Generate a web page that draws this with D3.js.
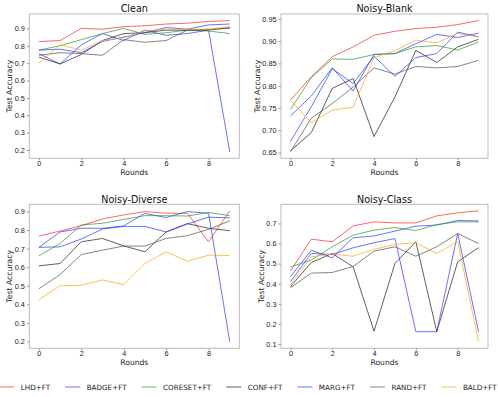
<!DOCTYPE html>
<html>
<head>
<meta charset="utf-8">
<script src="https://cdn.jsdelivr.net/npm/d3@7"></script>
<style>
  body { margin: 0; background: #fff; }
  svg { display: block; font-family: "DejaVu Sans", sans-serif; }
  .domain { display: none; }
  .tick line { stroke: #999; }
  .tick text { fill: #222; font-size: 7.3px; }
</style>
</head>
<body>
<svg id="chart" width="498" height="397"></svg>
<script>
// methods, in legend order
var methods = ['LHD+FT', 'BADGE+FT', 'CORESET+FT', 'CONF+FT', 'MARG+FT', 'RAND+FT', 'BALD+FT'];
var colors = ['#ff2a2a', '#2a3dff', '#2e9a2e', '#222222', '#2a3dff', '#555555', '#ffa51f'];
var rounds = [0, 1, 2, 3, 4, 5, 6, 7, 8, 9];
var xTicks = [0, 2, 4, 6, 8];

// test accuracy per round, one array per method (same order as methods)
var clean = [
  [0.824, 0.830, 0.900, 0.895, 0.910, 0.915, 0.925, 0.930, 0.940, 0.945],
  [0.755, 0.695, 0.805, 0.870, 0.830, 0.890, 0.860, 0.870, 0.890, 0.190],
  [0.775, 0.800, 0.835, 0.870, 0.900, 0.865, 0.875, 0.890, 0.885, 0.870],
  [0.735, 0.695, 0.750, 0.830, 0.870, 0.875, 0.890, 0.890, 0.890, 0.905],
  [0.775, 0.780, 0.760, 0.825, 0.850, 0.875, 0.905, 0.895, 0.920, 0.925],
  [0.745, 0.760, 0.755, 0.745, 0.835, 0.820, 0.830, 0.890, 0.895, 0.900],
  [0.700, 0.805, 0.775, 0.830, 0.845, 0.885, 0.895, 0.895, 0.895, 0.910]
];
var noisyBlank = [
  [0.768, 0.820, 0.865, 0.887, 0.913, 0.922, 0.928, 0.931, 0.937, 0.946],
  [0.732, 0.777, 0.840, 0.788, 0.870, 0.872, 0.894, 0.915, 0.908, 0.918],
  [0.747, 0.818, 0.860, 0.859, 0.870, 0.872, 0.887, 0.890, 0.880, 0.898],
  [0.654, 0.695, 0.794, 0.816, 0.686, 0.775, 0.879, 0.852, 0.887, 0.904],
  [0.675, 0.753, 0.838, 0.805, 0.866, 0.821, 0.863, 0.872, 0.920, 0.910],
  [0.652, 0.727, 0.760, 0.797, 0.840, 0.826, 0.843, 0.840, 0.843, 0.857],
  [0.768, 0.717, 0.745, 0.752, 0.863, 0.879, 0.902, 0.896, 0.917, 0.909]
];
var noisyDiverse = [
  [0.768, 0.795, 0.824, 0.860, 0.882, 0.900, 0.891, 0.891, 0.737, 0.904],
  [0.707, 0.790, 0.810, 0.810, 0.823, 0.890, 0.868, 0.900, 0.891, 0.198],
  [0.661, 0.728, 0.828, 0.837, 0.858, 0.878, 0.878, 0.876, 0.895, 0.878],
  [0.607, 0.620, 0.737, 0.755, 0.715, 0.683, 0.790, 0.835, 0.810, 0.797],
  [0.707, 0.710, 0.752, 0.806, 0.820, 0.820, 0.790, 0.833, 0.870, 0.866],
  [0.484, 0.560, 0.668, 0.692, 0.714, 0.714, 0.755, 0.770, 0.804, 0.850],
  [0.424, 0.500, 0.503, 0.531, 0.506, 0.620, 0.683, 0.632, 0.665, 0.663]
];
var noisyClass = [
  [0.463, 0.622, 0.609, 0.688, 0.708, 0.703, 0.703, 0.738, 0.753, 0.763],
  [0.435, 0.567, 0.529, 0.629, 0.638, 0.662, 0.687, 0.692, 0.715, 0.713],
  [0.484, 0.518, 0.584, 0.642, 0.667, 0.680, 0.665, 0.695, 0.708, 0.708],
  [0.385, 0.506, 0.551, 0.484, 0.164, 0.501, 0.609, 0.161, 0.509, 0.580],
  [0.410, 0.551, 0.546, 0.579, 0.604, 0.625, 0.161, 0.161, 0.650, 0.161],
  [0.380, 0.453, 0.456, 0.486, 0.562, 0.584, 0.537, 0.584, 0.650, 0.600],
  [0.393, 0.534, 0.547, 0.537, 0.571, 0.596, 0.604, 0.551, 0.609, 0.111]
];

var titles = ['Clean', 'Noisy-Blank', 'Noisy-Diverse', 'Noisy-Class'];
var yTicks = [
  [0.2, 0.3, 0.4, 0.5, 0.6, 0.7, 0.8, 0.9],
  [0.65, 0.70, 0.75, 0.80, 0.85, 0.90, 0.95],
  [0.2, 0.3, 0.4, 0.5, 0.6, 0.7, 0.8, 0.9],
  [0.1, 0.2, 0.3, 0.4, 0.5, 0.6, 0.7]
];
var yFormats = ['.1f', '.2f', '.1f', '.1f'];
var panelData = [clean, noisyBlank, noisyDiverse, noisyClass];

// panel boxes
var boxes = [
  {x0: 29.3, x1: 239.3, y0: 14, y1: 158.3},
  {x0: 281, x1: 488, y0: 14, y1: 158.3},
  {x0: 29.3, x1: 239.3, y0: 204.3, y1: 348.3},
  {x0: 281, x1: 488, y0: 204.3, y1: 348.3}
];

var svg = d3.select('#chart');

panelData.forEach(function(series, p) {
  var b = boxes[p];
  var all = d3.merge(series);
  var lo = d3.min(all), hi = d3.max(all), pad = (hi - lo) * 0.05;

  var x = d3.scaleLinear().domain([-0.45, 9.45]).range([b.x0, b.x1]);
  var y = d3.scaleLinear().domain([lo - pad, hi + pad]).range([b.y1, b.y0]);

  var g = svg.append('g');

  var line = d3.line()
    .x(function(d, i) { return x(rounds[i]); })
    .y(function(d) { return y(d); });

  g.selectAll('path.series')
    .data(series)
    .enter().append('path')
      .attr('class', 'series')
      .attr('d', line)
      .attr('fill', 'none')
      .attr('stroke', function(d, i) { return colors[i]; })
      .attr('stroke-width', 1)
      .attr('stroke-opacity', 0.72);

  g.append('rect')
    .attr('x', b.x0).attr('y', b.y0)
    .attr('width', b.x1 - b.x0).attr('height', b.y1 - b.y0)
    .attr('fill', 'none').attr('stroke', '#bbb').attr('stroke-width', 1);

  g.append('g')
    .attr('transform', 'translate(0,' + b.y1 + ')')
    .call(d3.axisBottom(x).tickValues(xTicks).tickSize(2).tickPadding(0.6).tickFormat(d3.format('d')));

  var yAxis = g.append('g')
    .attr('transform', 'translate(' + b.x0 + ',0)')
    .call(d3.axisLeft(y).tickValues(yTicks[p]).tickSize(2.5).tickPadding(2).tickFormat(d3.format(yFormats[p])));

  var bb = yAxis.node().getBBox();
  var cx = (b.x0 + b.x1) / 2, cy = (b.y0 + b.y1) / 2;

  g.append('text')
    .attr('x', cx).attr('y', b.y0 - 1.8)
    .attr('text-anchor', 'middle')
    .attr('font-size', 9.6).attr('fill', '#111')
    .text(titles[p]);

  g.append('text')
    .attr('x', cx).attr('y', b.y1 + 17)
    .attr('text-anchor', 'middle')
    .attr('font-size', 7.6).attr('fill', '#222')
    .text('Rounds');

  g.append('text')
    .attr('transform', 'translate(' + (b.x0 + bb.x - 2.3) + ',' + cy + ') rotate(-90)')
    .attr('text-anchor', 'middle')
    .attr('font-size', 7.7).attr('fill', '#222')
    .text('Test Accuracy');
});

// legend, one row along the bottom
var legend = svg.append('g');
var lx = 0;
methods.forEach(function(m, i) {
  var item = legend.append('g').attr('transform', 'translate(' + lx + ',0)');
  item.append('line')
    .attr('x1', 0).attr('x2', 15)
    .attr('stroke', colors[i]).attr('stroke-width', 1).attr('stroke-opacity', 0.72);
  var t = item.append('text')
    .attr('x', 21.5).attr('y', 2.6)
    .attr('font-size', 7.2).attr('fill', '#222')
    .text(m);
  lx += 21.5 + t.node().getComputedTextLength() + 15;
});
var legW = lx - 15;
legend.attr('transform', 'translate(' + (248 - legW / 2) + ',387)');
</script>
</body>
</html>
